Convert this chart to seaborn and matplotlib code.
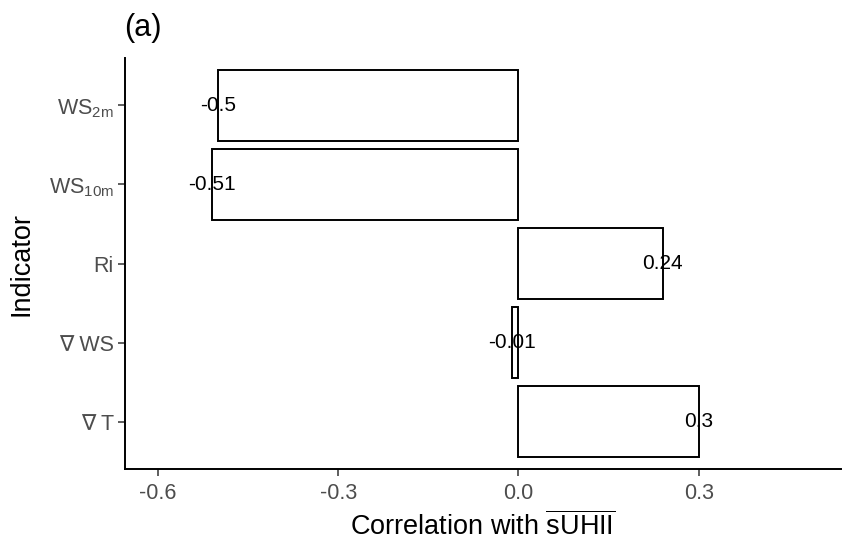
import matplotlib
matplotlib.use("Agg")
import matplotlib.pyplot as plt
import seaborn as sns
import pandas as pd

indicators = [r"WS$_\mathregular{2m}$", r"WS$_\mathregular{10m}$", "Ri", "∇ WS", "∇ T"]
correlations = [-0.50, -0.51, 0.24, -0.01, 0.30]
value_labels = ["-0.5", "-0.51", "0.24", "-0.01", "0.3"]
x_ticks = [-0.6, -0.3, 0.0, 0.3]
x_tick_labels = ["-0.6", "-0.3", "0.0", "0.3"]

sns.set_theme(style="ticks")
plt.rcParams["font.family"] = ["Liberation Sans", "DejaVu Sans"]
plt.rcParams["mathtext.fontset"] = "custom"
plt.rcParams["mathtext.rm"] = "Liberation Sans"
plt.rcParams["mathtext.it"] = "Liberation Sans:italic"

df = pd.DataFrame({"Indicator": indicators, "Correlation": correlations})

fig = plt.figure(figsize=(8.42, 5.47), dpi=100)
ax = fig.add_axes([125 / 842, 1 - 469 / 547, (841 - 125) / 842, (469 - 58) / 547])

sns.barplot(data=df, x="Correlation", y="Indicator", order=indicators,
            orient="h", width=0.9, color="white", edgecolor="black",
            linewidth=1.4, saturation=1, ax=ax)
for patch in ax.patches:
    patch.set_facecolor("white")

# value labels centred on the end of each bar
for i, (v, lab) in enumerate(zip(correlations, value_labels)):
    ax.text(v, i, lab, ha="center", va="center", fontsize=15, color="black")

ax.set_xlim(-0.655, 0.537)
ax.set_ylim(4.6, -0.6)
ax.set_xticks(x_ticks)
ax.set_xticklabels(x_tick_labels)
ax.tick_params(axis="both", colors="#333333", labelsize=15.5, length=5, width=1.1,
               labelcolor="#4D4D4D")
ax.tick_params(axis="x", pad=5)
ax.tick_params(axis="y", pad=3)

sns.despine(ax=ax)
for s in ["left", "bottom"]:
    ax.spines[s].set_color("black")
    ax.spines[s].set_linewidth(1.4)

ax.set_xlabel(r"Correlation with $\overline{\mathregular{sUHII}}$", fontsize=19.5,
              color="black", labelpad=5)
ax.set_ylabel("Indicator", fontsize=19.5, color="black", labelpad=10)

fig.text(124 / 842, 1 - 28 / 547, "(a)", fontsize=22, color="black",
         ha="left", va="center")

fig.savefig("out.png", dpi=100)
